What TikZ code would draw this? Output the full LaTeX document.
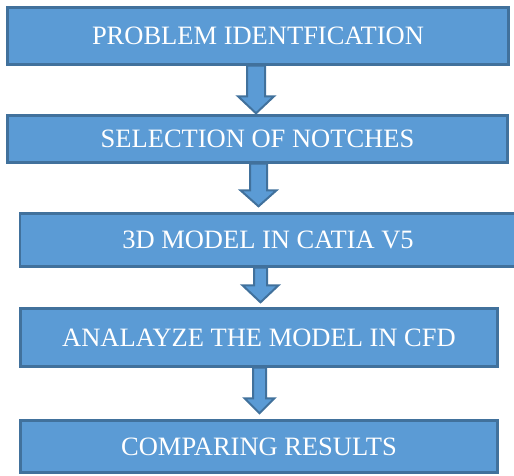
\documentclass[tikz,border=0pt]{standalone}
\usepackage{fontspec}
\setmainfont{Liberation Serif}
\usetikzlibrary{calc}

\definecolor{stepfill}{HTML}{5B9BD5}
\definecolor{stepline}{HTML}{41719C}

\tikzset{
  stepbox/.style={draw=stepline, fill=stepfill, line width=2.4pt,
    inner sep=0pt, text=white,
    font=\fontsize{26.5}{30}\selectfont},
  flowarrow/.style={draw=stepline, fill=stepfill, line width=2pt, line join=miter}
}

% block arrow: #1 start (shaft top), #2 tip, #3 shaft half width,
% #4 head half width, #5 head length
\newcommand\blockarrow[5]{%
  \draw[flowarrow] let \p1=#1, \p2=#2 in
    (\x1-#3,\y1) -- (\x1+#3,\y1) -- (\x1+#3,\y2+#5) -- (\x1+#4,\y2+#5)
    -- (\x1,\y2) -- (\x1-#4,\y2+#5) -- (\x1-#3,\y2+#5) -- cycle;}

\begin{document}
\begin{tikzpicture}[x=1pt, y=-1pt]
\useasboundingbox (0,0) rectangle (514,475);

\node[stepbox, minimum width=501pt, minimum height=57pt] (b1) at (258,36)
  {PROBLEM IDENTFICATION};
\node[stepbox, minimum width=500pt, minimum height=47pt] (b2) at (257.5,139)
  {SELECTION OF NOTCHES};
\node[stepbox, minimum width=496pt, minimum height=53pt] (b3) at (268,240)
  {3D MODEL IN CATIA V5};
\node[stepbox, minimum width=477pt, minimum height=58pt] (b4) at (259,337.5)
  {ANALAYZE THE MODEL IN CFD};
\node[stepbox, minimum width=477pt, minimum height=52pt] (b5) at (259,446.5)
  {COMPARING RESULTS};

\blockarrow{($(b1.south)+(-2,0)$)}{($(b2.north)+(-2,-1)$)}{9pt}{18pt}{17pt}
\blockarrow{($(b2.south)+(1,0)$)}{($(b3.north)+(-9.5,-6)$)}{8.5pt}{18pt}{16pt}
\blockarrow{($(b3.south)+(-7.5,0)$)}{($(b4.north)+(0.5,-5)$)}{6.5pt}{18pt}{17pt}
\blockarrow{($(b4.south)+(0.5,0)$)}{($(b5.north)+(0.5,-6)$)}{6.5pt}{15pt}{15pt}
\end{tikzpicture}
\end{document}
